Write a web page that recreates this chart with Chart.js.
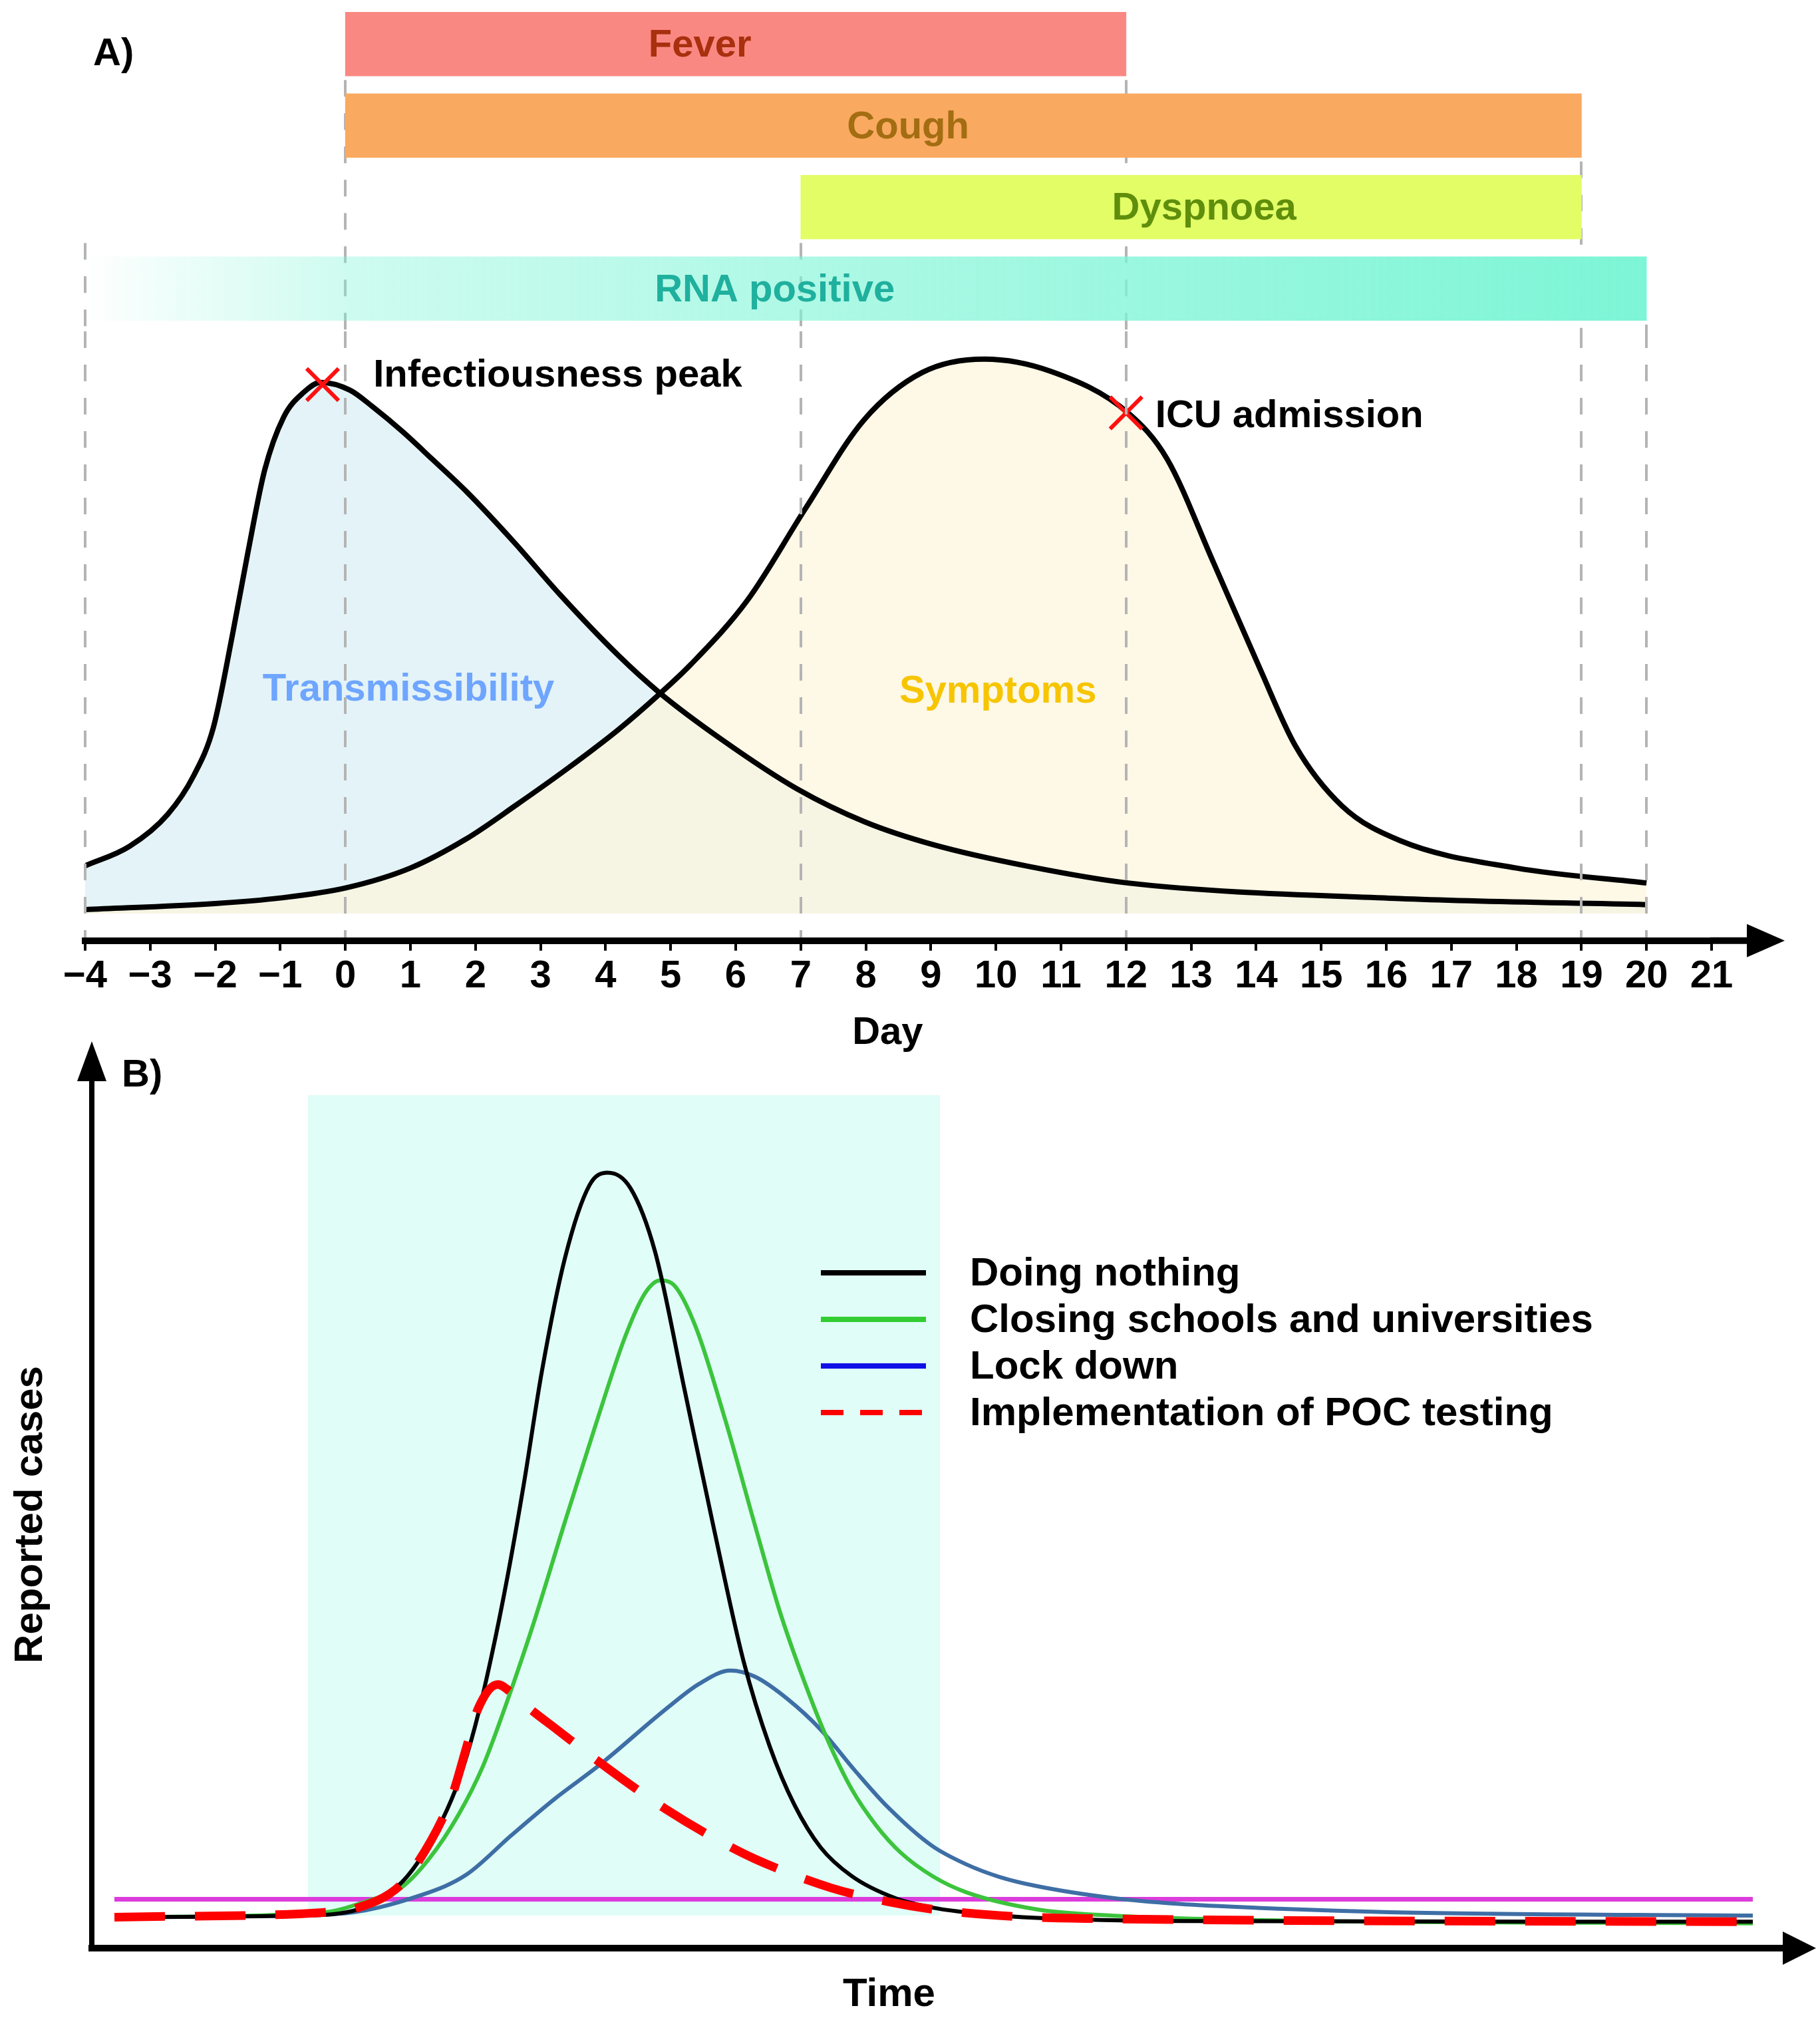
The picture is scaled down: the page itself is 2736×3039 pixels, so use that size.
<!DOCTYPE html>
<html>
<head>
<meta charset="utf-8">
<script src="https://cdn.jsdelivr.net/npm/chart.js@4.4.1/dist/chart.umd.min.js"></script>
<style>
  body { margin: 0; background: #fff; }
  #page { position: relative; width: 2736px; height: 3039px; overflow: hidden; background: #fff; }
  .box { position: absolute; left: 0; width: 2736px; }
  .tag { position: absolute; font: bold 58px "Liberation Sans", Arial, sans-serif; line-height: 58px; color: #000; }
</style>
</head>
<body>
<div id="page">
  <div class="box" style="top:0;height:500px"><canvas id="barsA"></canvas></div>
  <div class="box" style="top:440px;height:1148px"><canvas id="curvesA"></canvas></div>
  <div class="box" style="top:1540px;height:1499px"><canvas id="chartB"></canvas></div>
  <div class="tag" style="left:140px;top:49px">A)</div>
  <div class="tag" style="left:183px;top:1584px">B)</div>
</div>
<script>
// ---- panel A : symptom bars (in days) ----
const barNames = ['Fever', 'Cough', 'Dyspnoea', 'RNA positive'];
const barStart = [0, 0, 7, -4];
const barEnd = [12, 19, 19, 20];
const barLabelDay = [5.45, 8.65, 13.2, 6.6];

// ---- panel A : day axis ----
const dayTicks = [-4, -3, -2, -1, 0, 1, 2, 3, 4, 5, 6, 7, 8, 9, 10, 11, 12, 13, 14, 15, 16, 17, 18, 19, 20, 21];
const dashedDays = [-4, 0, 7, 12, 19, 20];
const guideFromBar = [2, 0, 2, 0, 1, 3];   // guide line starts under this bar

// ---- panel A : curves (relative level, symptoms peak = 100) ----
const transDays = [-4, -3.32, -2.73, -2.33, -2.03, -1.74, -1.5, -1.24, -0.95, -0.64, -0.38, 0.07, 0.43, 0.88, 1.33, 1.87, 2.59, 3.3, 4.2, 4.83, 5.77, 6.94, 7.99, 9.04, 10.5, 12.03, 16.2, 20];
const transLevel = [8.6, 12.1, 17.9, 24.9, 33.5, 50, 65, 80, 89.5, 94, 95.8, 94.4, 91.3, 86.9, 82, 76, 67, 57.5, 46.5, 39.8, 31.5, 22.5, 16.5, 12.4, 8.5, 5.5, 2.7, 1.6];
const sympDays = [-4, -2, -1, 0, 1, 1.85, 2.63, 3.42, 4.2, 4.83, 5.3, 6.18, 7.07, 7.97, 8.87, 9.82, 10.84, 12.03, 12.63, 13.34, 14.06, 14.6, 15.32, 16.22, 18.0, 20];
const sympLevel = [0.7, 1.8, 2.8, 4.6, 8.2, 13.4, 19.6, 26.2, 33.2, 39.6, 44.8, 56.5, 73, 89, 97.6, 100, 97.8, 90.3, 82, 63.4, 44.1, 30.3, 19.4, 13.1, 8.2, 5.5];
const markDays = [-0.35, 12.0];
const markLevel = [95.4, 90.3];

// ---- panel B : reported cases over time ----
const scenarioNames = ['Doing nothing', 'Closing schools and universities', 'Lock down', 'Implementation of POC testing'];
const nothingT = [0, 11.2, 14.9, 17.3, 18.5, 20, 21, 22, 23, 24, 25, 26.1, 27.5, 29, 30.1, 31.5, 33, 34.8, 36.6, 38.4, 40, 41.5, 43.1, 45, 47.6, 50, 53, 56.3, 65, 100];
const nothingY = [4.0, 4.2, 5.0, 8.0, 11, 16.5, 21.5, 28.5, 37.5, 48, 60, 74.5, 89, 98.4, 100, 98, 89.8, 72, 54, 37, 26, 18.5, 13, 9.3, 6.5, 5.2, 4.4, 3.9, 3.5, 3.4];
const schoolsT = [0, 12.7, 15.6, 17.45, 19.2, 21, 22.5, 24, 25.6, 27.5, 29.3, 31.2, 32.4, 33.3, 34.2, 35.5, 37.3, 39.1, 40.6, 42, 43.5, 45, 46.5, 48, 50, 52, 56.3, 60.8, 70, 100];
const schoolsY = [4.0, 4.6, 6.2, 7.7, 11.5, 17.2, 23.5, 32, 42, 55, 67, 79, 84.5, 86.1, 85.4, 80, 68, 54.5, 43.5, 35, 27, 20.5, 15.8, 12.3, 9.2, 7.2, 5.0, 4.2, 3.6, 3.2];
const lockT = [0, 13.4, 18.8, 21.5, 24.2, 26.9, 29.6, 33.7, 35.7, 37.6, 39.1, 41.1, 43.1, 45.2, 47.2, 49.9, 52, 54, 56.3, 60.8, 65, 69.8, 78.8, 100];
const lockY = [4.0, 4.4, 6.9, 9.5, 14.5, 19.3, 23.6, 30.9, 34.1, 35.8, 35.0, 32.1, 28.2, 22.9, 18.2, 13.2, 10.8, 9.2, 8.0, 6.5, 5.7, 5.2, 4.6, 4.2];
const pocT = [0, 12.7, 14.7, 17.4, 18.5, 20.0, 20.7, 21.5, 22.2, 23.4, 24.2, 25.4, 27, 29.4, 31.8, 33.6, 36.6, 39.1, 43.7, 47.2, 50, 54, 60, 100];
const pocY = [4.0, 4.6, 5.1, 8.0, 11.0, 16.6, 20.2, 26, 30.9, 34.0, 33.0, 30.8, 28.2, 24.3, 20.6, 18.0, 14.2, 11.5, 7.8, 6.0, 5.0, 4.2, 3.8, 3.4];
const thresholdT = [0, 100];
const thresholdY = [6.3, 6.3];
const windowT = [11.8, 50.4];
const windowY = [110, 110];
const windowLow = 4.2;

const FONT = '"Liberation Sans", Arial, sans-serif';
Chart.defaults.font.family = FONT;
Chart.defaults.font.weight = 'bold';
Chart.defaults.color = '#000';

function pts(xs, ys) {
  return xs.map((x, i) => ({x: x, y: ys[i]}));
}

// axis arrow heads
const arrowPlugin = {
  id: 'arrows',
  afterDraw(chart, args, o) {
    const ctx = chart.ctx, a = chart.chartArea;
    ctx.save();
    ctx.fillStyle = '#000';
    ctx.strokeStyle = '#000';
    if (o.x) {
      ctx.lineWidth = o.x.width;
      ctx.beginPath();
      ctx.moveTo(a.right - 2, a.bottom);
      ctx.lineTo(a.right + o.x.ext + 2, a.bottom);
      ctx.stroke();
      ctx.beginPath();
      ctx.moveTo(a.right + o.x.ext, a.bottom - o.x.half);
      ctx.lineTo(a.right + o.x.tip, a.bottom);
      ctx.lineTo(a.right + o.x.ext, a.bottom + o.x.half);
      ctx.closePath();
      ctx.fill();
    }
    if (o.y) {
      ctx.beginPath();
      ctx.moveTo(a.left - o.y.half, a.top);
      ctx.lineTo(a.left, a.top - o.y.tip);
      ctx.lineTo(a.left + o.y.half, a.top);
      ctx.closePath();
      ctx.fill();
    }
    ctx.restore();
  }
};

// dashed day guides between the bars
const guidePlugin = {
  id: 'guides',
  beforeDatasetsDraw(chart) {
    const ctx = chart.ctx, x = chart.scales.x;
    const bars = chart.getDatasetMeta(0).data;
    ctx.save();
    ctx.strokeStyle = '#b4b4b4';
    ctx.lineWidth = 4;
    ctx.setLineDash([25, 25]);
    dashedDays.forEach((d, i) => {
      const b = bars[guideFromBar[i]];
      const px = Math.round(x.getPixelForValue(d));
      ctx.beginPath();
      ctx.moveTo(px, b.y + b.height / 2 + 6);
      ctx.lineTo(px, chart.height);
      ctx.stroke();
    });
    ctx.restore();
  }
};

// text inside the bars
const barTextPlugin = {
  id: 'barText',
  afterDatasetsDraw(chart, args, o) {
    const ctx = chart.ctx, x = chart.scales.x;
    const meta = chart.getDatasetMeta(0);
    ctx.save();
    ctx.font = 'bold 58px ' + FONT;
    ctx.textAlign = 'center';
    ctx.textBaseline = 'middle';
    meta.data.forEach((bar, i) => {
      ctx.fillStyle = o.colors[i];
      ctx.fillText(barNames[i], x.getPixelForValue(barLabelDay[i]), bar.y + 3);
    });
    ctx.restore();
  }
};

// notes on the curves
const notesA = [
  {text: 'Infectiousness peak', day: 0.43, level: 96.9, align: 'left', color: '#000'},
  {text: 'ICU admission', day: 12.45, level: 89.6, align: 'left', color: '#000'},
  {text: 'Transmissibility', day: 0.97, level: 40.3, align: 'center', color: '#6ea5ff'},
  {text: 'Symptoms', day: 10.03, level: 40, align: 'center', color: '#f6c500'}
];
const notePlugin = {
  id: 'notes',
  afterDatasetsDraw(chart) {
    const ctx = chart.ctx, x = chart.scales.x, y = chart.scales.y;
    ctx.save();
    ctx.font = 'bold 58px ' + FONT;
    ctx.textBaseline = 'middle';
    notesA.forEach(n => {
      ctx.textAlign = n.align;
      ctx.fillStyle = n.color;
      ctx.fillText(n.text, x.getPixelForValue(n.day), y.getPixelForValue(n.level));
    });
    ctx.restore();
  }
};

// legend of panel B
const legendColors = ['#000000', '#33cc33', '#1010e6', '#ff0000'];
const sideLegend = {
  id: 'sideLegend',
  afterDraw(chart, args, o) {
    const ctx = chart.ctx;
    ctx.save();
    ctx.font = 'bold 60px ' + FONT;
    ctx.textBaseline = 'middle';
    ctx.textAlign = 'left';
    scenarioNames.forEach((name, i) => {
      const ds = chart.data.datasets.find(d => d.label === name);
      const y = o.top + i * o.step;
      ctx.strokeStyle = legendColors[i];
      ctx.lineWidth = o.lineWidth;
      ctx.setLineDash(ds && ds.borderDash ? o.dash : []);
      ctx.beginPath();
      ctx.moveTo(o.x1, y);
      ctx.lineTo(o.x2, y);
      ctx.stroke();
      ctx.setLineDash([]);
      ctx.fillStyle = '#000';
      ctx.fillText(name, o.textX, y + 2);
    });
    ctx.restore();
  }
};

// ---------- panel A, bars ----------
const barColors = ['#fa8882', '#f9a960', '#e3fd66'];
new Chart(document.getElementById('barsA'), {
  type: 'bar',
  data: {
    labels: barNames,
    datasets: [{
      data: barStart.map((s, i) => [s, barEnd[i]]),
      barThickness: 96,
      borderWidth: 0,
      borderSkipped: false,
      backgroundColor(ctx) {
        if (ctx.dataIndex < 3) return barColors[ctx.dataIndex];
        const chart = ctx.chart, xs = chart.scales.x;
        if (!chart.chartArea || !xs) return 'rgba(125,245,214,0.6)';
        const g = chart.ctx.createLinearGradient(xs.getPixelForValue(-4), 0, xs.getPixelForValue(20), 0);
        g.addColorStop(0, 'rgba(125,245,214,0)');
        g.addColorStop(0.05, 'rgba(125,245,214,0.12)');
        g.addColorStop(0.17, 'rgba(125,245,214,0.38)');
        g.addColorStop(0.5, 'rgba(125,245,214,0.65)');
        g.addColorStop(1, 'rgba(125,245,214,1)');
        return g;
      }
    }]
  },
  options: {
    indexAxis: 'y',
    responsive: true,
    maintainAspectRatio: false,
    animation: false,
    events: [],
    layout: {padding: {left: 128, right: 163, top: 5, bottom: 5}},
    plugins: {
      legend: {display: false},
      tooltip: {enabled: false},
      barText: {colors: ['#a8300e', '#a36d12', '#5f8e0c', '#1fb09e']}
    },
    scales: {
      x: {type: 'linear', min: -4, max: 21, display: false},
      y: {display: false}
    }
  },
  plugins: [guidePlugin, barTextPlugin]
});

// ---------- panel A, curves ----------
new Chart(document.getElementById('curvesA'), {
  type: 'line',
  data: {
    datasets: [
      {
        label: 'markers',
        data: pts(markDays, markLevel),
        showLine: false,
        pointStyle: 'crossRot',
        pointRadius: 34,
        pointBorderWidth: 6,
        pointBorderColor: '#ff1010',
        pointBackgroundColor: '#ff1010'
      },
      {
        label: 'Symptoms',
        data: pts(sympDays, sympLevel),
        borderColor: '#000',
        borderWidth: 8,
        pointRadius: 0,
        cubicInterpolationMode: 'monotone',
        fill: 'origin',
        backgroundColor: 'rgba(254,245,219,0.7)'
      },
      {
        label: 'Transmissibility',
        data: pts(transDays, transLevel),
        borderColor: '#000',
        borderWidth: 8,
        pointRadius: 0,
        cubicInterpolationMode: 'monotone',
        fill: 'origin',
        backgroundColor: 'rgb(228,243,247)'
      }
    ]
  },
  options: {
    responsive: true,
    maintainAspectRatio: false,
    animation: false,
    events: [],
    layout: {padding: {left: 128, right: 163, top: 58, bottom: 0}},
    plugins: {
      legend: {display: false},
      tooltip: {enabled: false},
      filler: {drawTime: 'beforeDatasetsDraw'},
      arrows: {x: {ext: 53, tip: 110, half: 25, width: 10}}
    },
    scales: {
      x: {
        type: 'linear', min: -4, max: 21,
        afterBuildTicks: axis => { axis.ticks = dayTicks.map(v => ({value: v})); },
        ticks: {
          autoSkip: false, maxRotation: 0, padding: 4,
          font: {size: 58, weight: 'bold'},
          callback: v => v < 0 ? '\u2212' + Math.abs(v) : String(v)
        },
        grid: {
          z: 1, lineWidth: 4, tickLength: 15, tickWidth: 4, tickColor: '#000',
          color: c => (c.tick && dashedDays.includes(c.tick.value)) ? '#b4b4b4' : 'rgba(0,0,0,0)'
        },
        border: {display: true, z: 1, color: '#000', width: 10, dash: [25, 25]},
        title: {
          display: true, text: 'Day\u00a0\u00a0',
          font: {size: 58, weight: 'bold'},
          padding: {top: 12, bottom: 0}
        }
      },
      y: {type: 'linear', display: false, min: -4.9, max: 105}
    }
  },
  plugins: [notePlugin, arrowPlugin]
});

// ---------- panel B ----------
new Chart(document.getElementById('chartB'), {
  type: 'line',
  data: {
    datasets: [
      {
        label: scenarioNames[3],
        data: pts(pocT, pocY),
        borderColor: '#ff0000',
        borderWidth: 13,
        borderDash: [76, 45],
        pointRadius: 0,
        cubicInterpolationMode: 'monotone'
      },
      {
        label: scenarioNames[0],
        data: pts(nothingT, nothingY),
        borderColor: '#000000',
        borderWidth: 6,
        pointRadius: 0,
        cubicInterpolationMode: 'monotone'
      },
      {
        label: scenarioNames[1],
        data: pts(schoolsT, schoolsY),
        borderColor: '#3cc43c',
        borderWidth: 6,
        pointRadius: 0,
        cubicInterpolationMode: 'monotone'
      },
      {
        label: scenarioNames[2],
        data: pts(lockT, lockY),
        borderColor: '#3e6ea5',
        borderWidth: 6,
        pointRadius: 0,
        cubicInterpolationMode: 'monotone'
      },
      {
        label: 'threshold',
        data: pts(thresholdT, thresholdY),
        borderColor: '#dc3cdc',
        borderWidth: 7,
        pointRadius: 0
      },
      {
        label: 'window',
        data: pts(windowT, windowY),
        borderWidth: 0,
        pointRadius: 0,
        fill: {value: windowLow},
        backgroundColor: '#e0fdf8'
      }
    ]
  },
  options: {
    responsive: true,
    maintainAspectRatio: false,
    animation: false,
    events: [],
    layout: {padding: {left: 10, right: 101, top: 85, bottom: 5}},
    plugins: {
      legend: {display: false},
      tooltip: {enabled: false},
      arrows: {
        x: {ext: 45, tip: 95, half: 25, width: 10},
        y: {tip: 60, half: 22}
      },
      sideLegend: {top: 373, step: 70, x1: 1234, x2: 1392, textX: 1458, lineWidth: 8, dash: [34, 25]}
    },
    scales: {
      x: {
        type: 'linear', min: -1.38, max: 100,
        ticks: {display: false},
        grid: {display: false, drawTicks: false},
        border: {display: true, color: '#000', width: 10},
        title: {
          display: true, text: 'Time\u00a0\u00a0\u00a0\u00a0\u00a0\u00a0',
          font: {size: 60, weight: 'bold'},
          padding: {top: 34, bottom: 0}
        }
      },
      y: {
        type: 'linear', min: 0, max: 111.8,
        ticks: {display: false},
        grid: {display: false, drawTicks: false},
        border: {display: true, color: '#000', width: 8},
        title: {
          display: true, text: 'Reported cases',
          font: {size: 60, weight: 'bold'},
          padding: {top: 0, bottom: 56}
        }
      }
    }
  },
  plugins: [arrowPlugin, sideLegend]
});
</script>
</body>
</html>
